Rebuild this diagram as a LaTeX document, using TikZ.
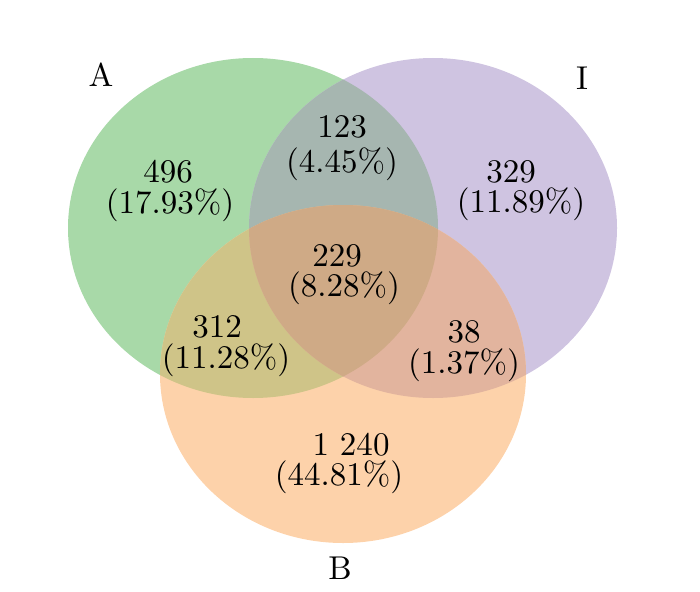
\documentclass[tikz,border=0pt]{standalone}
\usepackage{fontspec}
\setmainfont{lmroman10-regular}[Extension=.otf]
\usepackage{tikz}

\definecolor{setA}{RGB}{168,217,168}
\definecolor{setI}{RGB}{207,196,225}
\definecolor{setB}{RGB}{253,210,170}
\definecolor{setAI}{RGB}{166,182,176}
\definecolor{setAB}{RGB}{207,196,136}
\definecolor{setIB}{RGB}{226,180,158}
\definecolor{setAIB}{RGB}{207,170,134}

\tikzset{
  count/.style={anchor=base, align=center, font=\fontsize{33}{26}\selectfont},
  setname/.style={anchor=base, font=\fontsize{33}{33}\selectfont},
}

\def\circA{(253,228) ellipse [x radius=185pt, y radius=170pt]}
\def\circI{(433,228) ellipse [x radius=184pt, y radius=170pt]}
\def\circB{(343,374) ellipse [x radius=183pt, y radius=169pt]}

\begin{document}
\begin{tikzpicture}[x=1pt,y=-1pt]
\useasboundingbox (0,0) rectangle (700,591);

% the three sets
\fill[setA] \circA;
\fill[setI] \circI;
\fill[setB] \circB;

% the overlaps
\begin{scope}
\clip \circA;
\fill[setAI] \circI;
\fill[setAB] \circB;
\end{scope}
\begin{scope}
\clip \circI;
\fill[setIB] \circB;
\end{scope}
\begin{scope}
\clip \circA;
\clip \circI;
\fill[setAIB] \circB;
\end{scope}

% set names
\node[setname] (nameA) at (101,87) {A};
\node[setname] (nameI) at (582,90) {I};
\node[setname] (nameB) at (340,579) {B};

% counts (base = last line)
\node[count] (onlyA) at (170,213) {496\hspace*{4pt}\\[5pt](17.93\%)};
\node[count] (onlyI) at (521,212) {329\hspace*{20pt}\\[4pt](11.89\%)};
\node[count] (onlyB) at (339,485) {\hspace*{24pt}1 240\\[4pt](44.81\%)};
\node[count] (AI) at (342,172) {123\\[9pt](4.45\%)};
\node[count] (AB) at (226,368) {312\hspace*{18pt}\\[5pt](11.28\%)};
\node[count] (IB) at (464,373) {38\\[5pt](1.37\%)};
\node[count] (AIB) at (344,296) {229\hspace*{14pt}\\[4pt](8.28\%)};
\end{tikzpicture}
\end{document}
